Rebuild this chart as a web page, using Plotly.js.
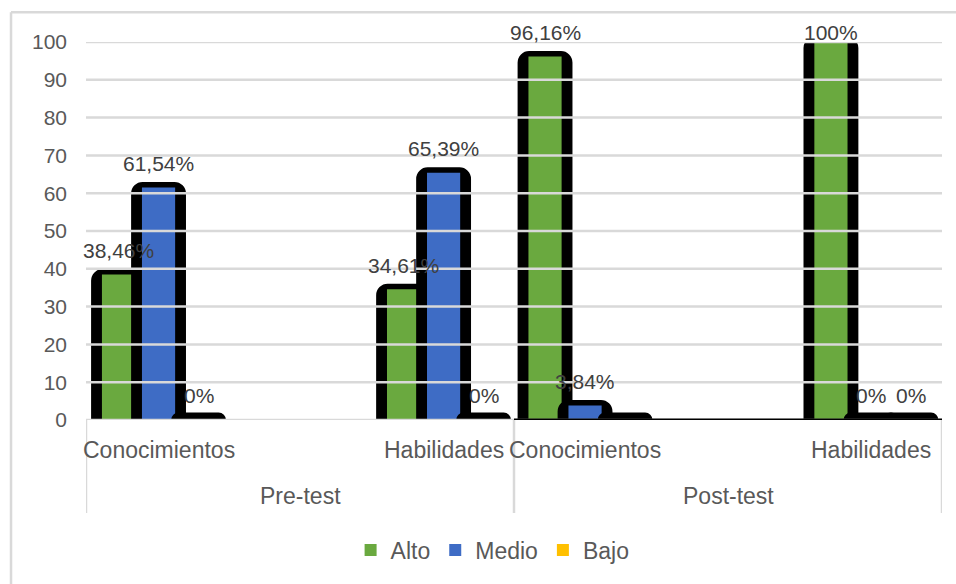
<!DOCTYPE html>
<html>
<head>
<meta charset="utf-8">
<script src="https://cdn.plot.ly/plotly-3.0.1.min.js"></script>
<style>html,body{margin:0;padding:0;background:#fff;}#chart{width:956px;height:584px;}</style>
</head>
<body>
<div id="chart"></div>
<script>
// ---- data ----
const categories = ['Conocimientos', 'Habilidades', 'Conocimientos', 'Habilidades'];
const phases = ['Pre-test', 'Post-test'];
const seriesNames = ['Alto', 'Medio', 'Bajo'];
const alto = [38.46, 34.61, 96.16, 100];
const medio = [61.54, 65.39, 3.84, 0];
const bajo = [0, 0, 0, 0];
const yTicks = [0, 10, 20, 30, 40, 50, 60, 70, 80, 90, 100];

// ---- layout / style ----
const catPos = [0.339, 1.671, 2.332, 3.668];
const seriesStep = 0.187;
const colors = ['#6aa93f', '#3e6cc5', '#ffc000'];
const stub = 0.5;           // visible outline for zero bars
const hiddenLabels = {'2-2': true};
const font = 'Liberation Sans, Arial, sans-serif';
const textCol = '#595959';
const gridCol = '#d9d9d9';
const yMax = yTicks[yTicks.length - 1];

const seriesVals = [alto, medio, bajo];
const traces = [];
const annotations = [];

function fmt(v) { return String(v).replace('.', ',') + '%'; }

seriesVals.forEach((vals, s) => {
  const xs = catPos.map(c => c + (s - 1) * seriesStep);
  traces.push({
    type: 'bar', x: xs, y: vals.map(v => v > 0 ? v : stub), width: 0.205,
    marker: {color: '#000', line: {color: '#000', width: 11}, cornerradius: 6},
    showlegend: false, hoverinfo: 'skip'
  });
  traces.push({
    type: 'bar', name: seriesNames[s], x: xs, y: vals, width: 0.155,
    marker: {color: colors[s]}
  });
  vals.forEach((v, i) => {
    if (hiddenLabels[i + '-' + s]) return;
    annotations.push({
      x: xs[i], y: Math.min(v + 6.35, 102.4) / yMax, xref: 'x', yref: 'paper',
      text: fmt(v), showarrow: false, yanchor: 'middle',
      font: {family: font, size: 21, color: '#404040'}
    });
  });
});

categories.forEach((c, i) => {
  annotations.push({
    x: catPos[i], y: -0.079, xref: 'x', yref: 'paper', text: c, showarrow: false,
    yanchor: 'middle', font: {family: font, size: 23, color: textCol}
  });
});
phases.forEach((p, i) => {
  annotations.push({
    x: 2 * i + 1, y: -0.201, xref: 'x', yref: 'paper', text: p, showarrow: false,
    yanchor: 'middle', font: {family: font, size: 23, color: textCol}
  });
});

const shapes = [];
yTicks.forEach(t => {
  shapes.push({type: 'line', xref: 'x', yref: 'y', x0: 0, x1: 4, y0: t, y1: t,
    line: {color: gridCol, width: 2.5}, layer: 'above'});
});
shapes.push({type: 'line', xref: 'x', yref: 'y', x0: 2, x1: 4, y0: 0, y1: 0,
  line: {color: '#000', width: 3}, layer: 'above'});
[0, 2, 4].forEach(xv => {
  shapes.push({type: 'line', xref: 'x', yref: 'paper', x0: xv, x1: xv, y0: 0, y1: -0.246,
    line: {color: gridCol, width: 2.5}});
});
// outer chart border (left and top)
shapes.push({type: 'line', xref: 'paper', yref: 'paper', x0: -0.0876, x1: -0.0876, y0: 1.079, y1: -0.45,
  line: {color: gridCol, width: 2.5}});
shapes.push({type: 'line', xref: 'paper', yref: 'paper', x0: -0.0876, x1: 1.02, y0: 1.079, y1: 1.079,
  line: {color: gridCol, width: 2.5}});

const layout = {
  width: 956, height: 584,
  margin: {l: 86, r: 14, t: 42, b: 164},
  paper_bgcolor: '#fff', plot_bgcolor: '#fff',
  barmode: 'overlay',
  xaxis: {range: [0, 4], showgrid: false, zeroline: false, showticklabels: false, ticks: '', fixedrange: true},
  yaxis: {range: [0, yMax], tickvals: yTicks, showgrid: false, zeroline: false, ticks: '',
    ticklabelstandoff: 18, tickfont: {family: font, size: 21, color: textCol}},
  showlegend: true,
  legend: {orientation: 'h', x: 0.475, xanchor: 'center', y: -0.344, yanchor: 'middle',
    itemwidth: 30, font: {family: font, size: 23, color: textCol}},
  annotations: annotations,
  shapes: shapes
};

Plotly.newPlot('chart', traces, layout, {staticPlot: true, displayModeBar: false});
</script>
</body>
</html>
